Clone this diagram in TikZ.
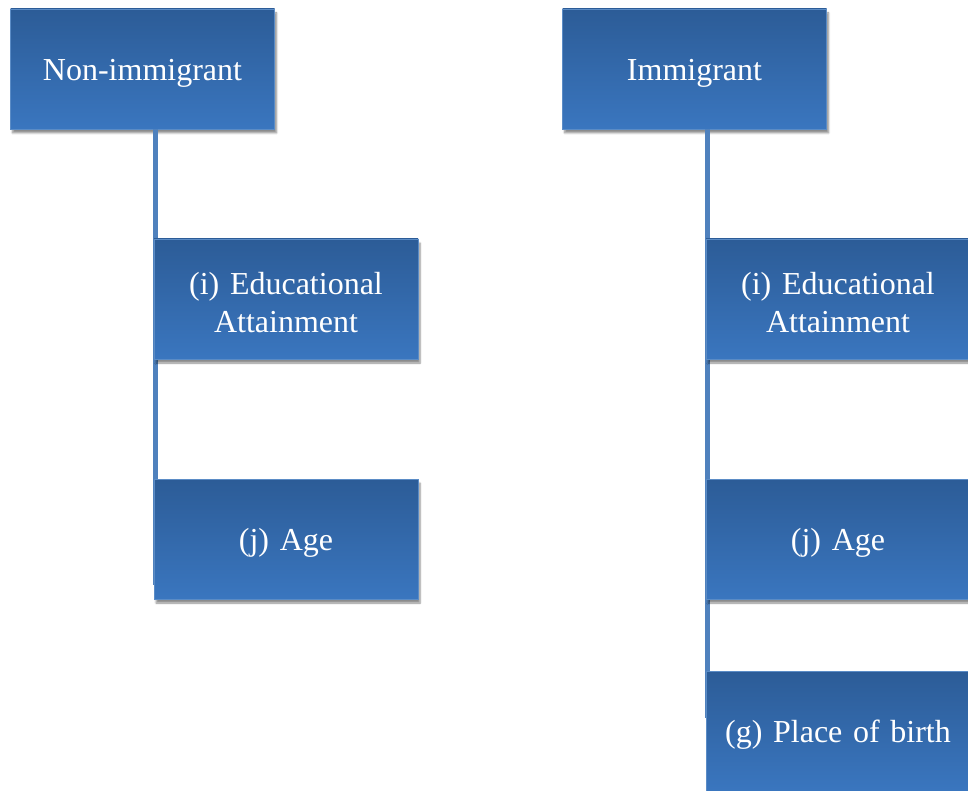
\documentclass[tikz,border=0pt]{standalone}
\usepackage{fontspec}
\setmainfont[WordSpace=0.75]{Liberation Serif}
\usetikzlibrary{shadows.blur}
\definecolor{boxtop}{HTML}{2C5C97}
\definecolor{boxbot}{HTML}{3A76BF}
\definecolor{boxedge}{HTML}{5B8CC6}
\definecolor{linkcol}{HTML}{4F81BD}
\begin{document}
\begin{tikzpicture}[x=1pt,y=-1pt,
  orgbox/.style={rectangle, minimum width=264pt, minimum height=120pt,
    top color=boxtop, bottom color=boxbot, draw=boxedge, line width=0.8pt,
    blur shadow={shadow xshift=2pt, shadow yshift=-4pt, shadow blur steps=6, shadow opacity=45},
    label={[boxtext]center:{#1}}},
  boxtext/.style={text=white, align=center, text width=250pt, yshift=-4pt,
    font=\fontsize{32}{38}\selectfont},
  link/.style={draw=linkcol, line width=5pt}]
\useasboundingbox (0,0) rectangle (968,791);
\clip (0,0) rectangle (968,791);
% trunk end points
\coordinate (e1) at (155,585);
\coordinate (e2) at (707,718);
% nodes
\node[orgbox={Non-immigrant}] (A) at (142.5,69) {};
\node[orgbox={Immigrant}] (B) at (694.5,69) {};
\draw[link] (A.south -| e1) -- (e1);
\draw[link] (B.south -| e2) -- (e2);
\node[orgbox={(i) Educational\\Attainment}] (Ea) at (286,299) {};
\node[orgbox={(j) Age}] (Ga) at (286,539) {};
\node[orgbox={(i) Educational\\Attainment}] (Eb) at (838,299) {};
\node[orgbox={(j) Age}] (Gb) at (838,539) {};
\node[orgbox={(g) Place of birth}] (Pb) at (838,731) {};
\end{tikzpicture}
\end{document}
